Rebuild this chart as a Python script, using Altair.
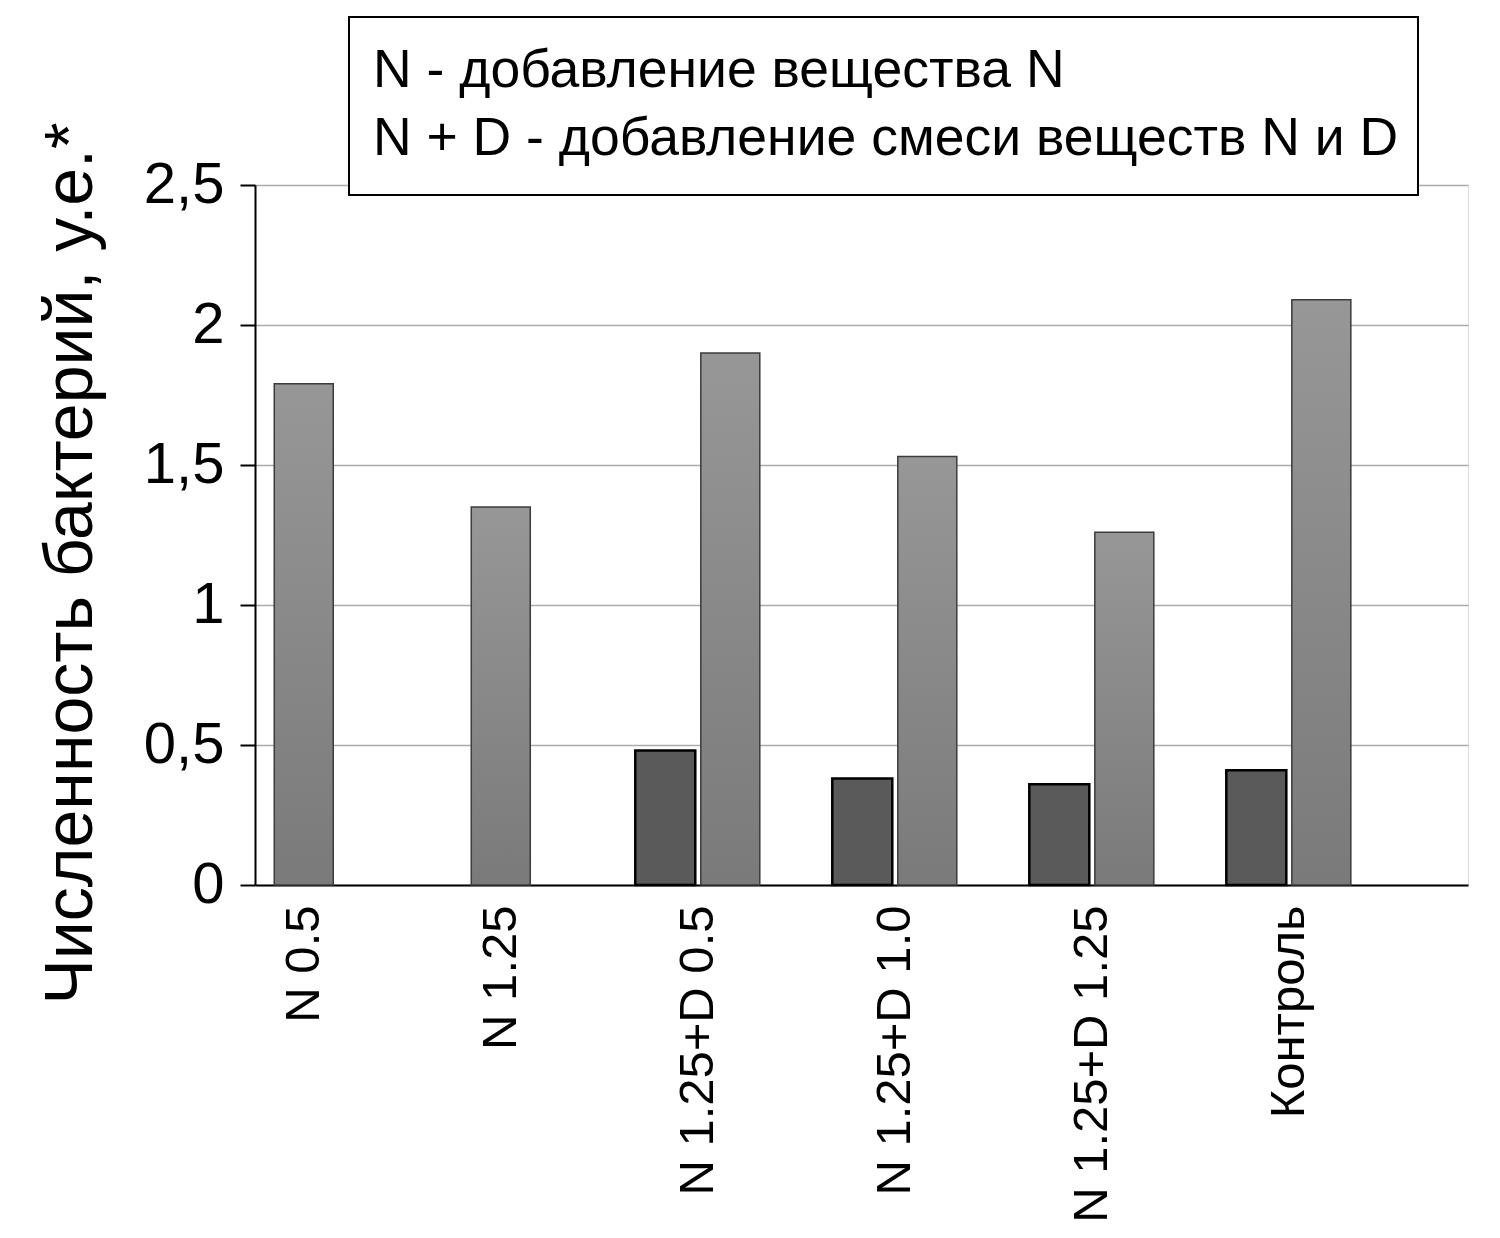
import altair as alt
import pandas as pd

categories = ["N 0.5", "N 1.25", "N 1.25+D 0.5", "N 1.25+D 1.0", "N 1.25+D 1.25", "Контроль"]
light_values = [1.79, 1.35, 1.90, 1.53, 1.26, 2.09]
dark_values = [None, None, 0.48, 0.38, 0.36, 0.41]
y_ticks = [0, 0.5, 1, 1.5, 2, 2.5]
y_title = "Численность бактерий, у.е.*"
legend_lines = ["N - добавление вещества N", "N + D - добавление смеси веществ N и D"]

rows = []
for c, lv, dv in zip(categories, light_values, dark_values):
    rows.append({"cat": c, "series": "light", "value": lv,
                 "slot": "single" if dv is None else "light"})
    if dv is not None:
        rows.append({"cat": c, "series": "dark", "value": dv, "slot": "dark"})
df = pd.DataFrame(rows)

FONT = "Liberation Sans"

x_enc = alt.X("cat:N", sort=categories,
              scale=alt.Scale(paddingInner=0.505, paddingOuter=0.331, align=0),
              axis=alt.Axis(title=None, labelAngle=-90, labelFontSize=49, labelFont=FONT,
                            labelColor="black", ticks=False, labelPadding=20, labelLimit=0,
                            domainColor="black", domainWidth=2, grid=False))
y_enc = alt.Y("value:Q",
              scale=alt.Scale(domain=[0, 2.5], nice=False),
              axis=alt.Axis(values=y_ticks, title=y_title,
                            labelExpr="replace(format(datum.value, '.1~f'), '.', ',')",
                            labelFontSize=58, labelFont=FONT, labelColor="black",
                            labelPadding=16, tickSize=15, tickWidth=2, tickColor="black",
                            domainColor="black", domainWidth=2,
                            gridColor="#ababab", gridWidth=1.5,
                            titleFont=FONT, titleFontSize=68, titleFontWeight="normal",
                            titleColor="black", titleAngle=-90, titleX=-164, titleY=378,
                            titleAlign="center", titleBaseline="alphabetic"))
xo_enc = alt.XOffset("slot:N", scale=alt.Scale(domain=["dark", "single", "light"],
                                                paddingInner=0, paddingOuter=0))

base = alt.Chart(df).encode(x=x_enc, y=y_enc, xOffset=xo_enc)

light = base.transform_filter("datum.series == 'light'").mark_bar(
    size=59,
    fill=alt.Gradient(gradient="linear",
                      stops=[alt.GradientStop(color="#979797", offset=0),
                             alt.GradientStop(color="#7a7a7a", offset=1)],
                      x1=0, x2=0, y1=0, y2=1),
    stroke="#3c3c3c", strokeWidth=1.5)

dark = base.transform_filter("datum.series == 'dark'").mark_bar(
    size=60, fill="#5a5a5a", stroke="black", strokeWidth=2.5)

ann = alt.Chart(pd.DataFrame({"t": ["\n".join(legend_lines)]}))
box = ann.mark_rect(fill="white", stroke="black", strokeWidth=2).encode(
    x=alt.value(94), x2=alt.value(1163), y=alt.value(-168), y2=alt.value(10))
txt = ann.mark_text(align="left", baseline="alphabetic", font=FONT, fontSize=53.5,
                    lineBreak="\n", lineHeight=68, color="black").encode(
    x=alt.value(118), y=alt.value(-98), text="t:N")

chart = alt.layer(light, dark, box, txt).properties(
    width=1213, height=700,
    autosize=alt.AutoSizeParams(type="none"),
    padding={"left": 247, "top": 177, "right": 20, "bottom": 345},
).configure_view(strokeWidth=0, stroke="transparent").configure(background="white")

chart.save("out.html", embed_options={"renderer": "svg", "actions": False})
